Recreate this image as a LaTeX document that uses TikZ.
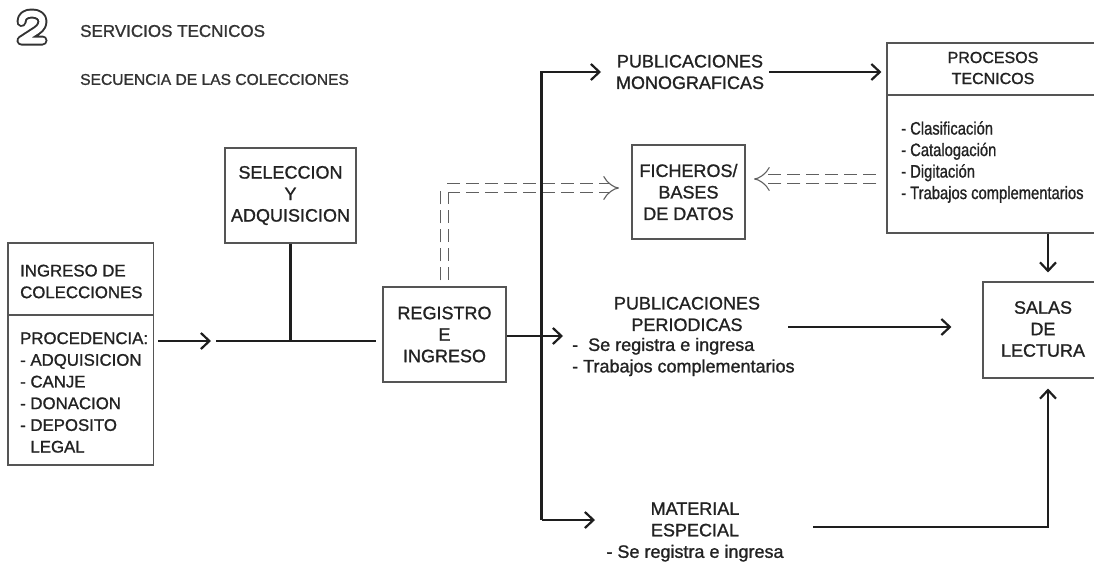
\documentclass[tikz,border=0pt]{standalone}
\usepackage{fontspec}
\setmainfont{Liberation Sans}[FakeBold=1.1]
\usetikzlibrary{arrows.meta,calc}
\definecolor{ink}{HTML}{1E1E1E}
\definecolor{boxc}{HTML}{555555}
\definecolor{txt}{HTML}{222222}
\definecolor{dsh}{HTML}{606060}
\definecolor{ttl}{HTML}{333333}
\begin{document}
\begin{tikzpicture}[x=1pt,y=-1pt,
  box/.style={draw=boxc, line width=1.1pt, inner sep=0pt},
  lbl/.style={text=txt, font=\fontsize{18}{21.5}\selectfont, align=center, inner sep=0pt},
  lst/.style={lbl, align=left},
  small/.style={font=\fontsize{16.8}{21.7}\selectfont},
  conn/.style={draw=ink, line width=2.2pt},
  arr/.style={conn, -{Straight Barb[length=8.5pt,width=16pt]}},
  dbl/.style={draw=dsh, line width=1.1pt, double=white, double distance=7.5pt,
              dash pattern=on 13pt off 6pt, -{Implies[scale=2]}},
  ttlt/.style={text=ttl, inner sep=0pt, anchor=west}]
\useasboundingbox (0,0) rectangle (1094,565);
\fill[white] (0,0) rectangle (1094,565);
\clip (0,0) rectangle (1094,565);

% big outlined "2"
\draw[ttl, line width=10pt, line cap=round, line join=round]
  (21.5,22) .. controls (21.5,16) and (26,13.5) .. (32,13.5) .. controls (38,13.5) and (42.5,16.5) .. (42.5,21.5)
  .. controls (42.5,27) and (38,30) .. (33,33) -- (21.5,40.5) -- (42.5,40.5);
\draw[white, line width=6pt, line cap=round, line join=round]
  (21.5,22) .. controls (21.5,16) and (26,13.5) .. (32,13.5) .. controls (38,13.5) and (42.5,16.5) .. (42.5,21.5)
  .. controls (42.5,27) and (38,30) .. (33,33) -- (21.5,40.5) -- (42.5,40.5);

\node[ttlt, font=\fontsize{17}{20}\selectfont] (t1) at (80,31) {SERVICIOS TECNICOS};
\node[ttlt, font=\fontsize{15.6}{20}\selectfont] (t2) at (80,79.5) {SECUENCIA DE LAS COLECCIONES};

% INGRESO DE COLECCIONES
\node[box, minimum width=145.6pt, minimum height=72pt] (ingT) at (80.8,279) {};
\node[box, minimum width=145.6pt, minimum height=150pt] (ingB) at (80.8,390) {};
\node[lst, small, anchor=west] (ingTt) at (20,281.5) {INGRESO DE\\COLECCIONES};
\node[lst, small, anchor=west] (ingBt) at (20,392.5) {PROCEDENCIA:\\- ADQUISICION\\- CANJE\\- DONACION\\- DEPOSITO\\\phantom{- }LEGAL};

% SELECCION
\node[box, lbl, minimum width=131pt, minimum height=95pt] (sel) at (290.5,195.5) {SELECCION\\Y\\ADQUISICION};

% REGISTRO
\node[box, lbl, minimum width=123pt, minimum height=95pt] (reg) at (444.5,334.5) {REGISTRO\\E\\INGRESO};

% FICHEROS
\node[box, lbl, minimum width=113pt, minimum height=94pt] (fich) at (688.5,192) {FICHEROS/\\BASES\\DE DATOS};

% PROCESOS TECNICOS
\node[box, minimum width=213pt, minimum height=52pt] (procT) at (993.5,69) {};
\node[box, minimum width=213pt, minimum height=138pt] (procB) at (993.5,164) {};
\node[lbl, font=\fontsize{16}{21}\selectfont] (procTt) at (993,68) {PROCESOS\\TECNICOS};
\node[lst, anchor=west] (procBt) at (901,162.5) {\scalebox{0.82}[1]{\begin{tabular}{@{}l@{}}- Clasificación\\- Catalogación\\- Digitación\\- Trabajos complementarios\end{tabular}}};

% SALAS DE LECTURA
\node[box, minimum width=117pt, minimum height=96pt] (salas) at (1041.5,330) {};
\node[lbl] (salasT) at (1043,329) {SALAS\\DE\\LECTURA};

% branch labels
\node[lbl] (mono) at (690,72) {PUBLICACIONES\\MONOGRAFICAS};
\node[lbl] (peri) at (687,314) {PUBLICACIONES\\PERIODICAS};
\node[lst, anchor=west] (periL) at (572,357) {-\ \ Se registra e ingresa\\- Trabajos complementarios};
\node[lbl] (mat) at (695,532) {MATERIAL\\ESPECIAL\\- Se registra e ingresa};

% coordinates
\coordinate (a1) at (211,341);
\coordinate (j1) at (216,341);
\coordinate (a2) at (563,336);
\coordinate (tT) at (541.5,72);
\coordinate (tB) at (541.5,520);
\coordinate (a3) at (601,72);
\coordinate (a4) at (595,520);
\coordinate (a5) at (788,327);
\coordinate (a6) at (813,527);
\coordinate (cv) at (1048,300);
\coordinate (d1) at (619,188);
\coordinate (d2) at (754,179);

% dashed double arrows
\draw[dbl, shorten <=6pt] (reg.north) |- (d1);
\draw[dbl, shorten <=10pt] (d2 -| procB.west) -- (d2);

% solid connectors
\draw[arr, shorten <=4pt] (ingB.east |- a1) -- (a1);
\draw[conn, shorten >=6pt] (j1) -- (j1 -| reg.west);
\draw[conn] (sel.south) -- (sel.south |- j1);
\draw[arr] (reg.east |- a2) -- (a2);
\draw[arr, line join=miter] (tB) -- (tT) -- (a3);
\draw[arr] (tB) -- (a4);
\draw[arr, shorten <=5pt, shorten >=5pt] (mono.east) -- (mono.east -| procT.west);
\draw[arr, shorten >=31pt] (a5) -- (a5 -| salas.west);
\draw[arr, shorten >=9pt] (cv |- procB.south) -- (cv |- salas.north);
\draw[arr, shorten >=10pt, line join=miter] (a6) -| (cv |- salas.south);
\end{tikzpicture}
\end{document}
